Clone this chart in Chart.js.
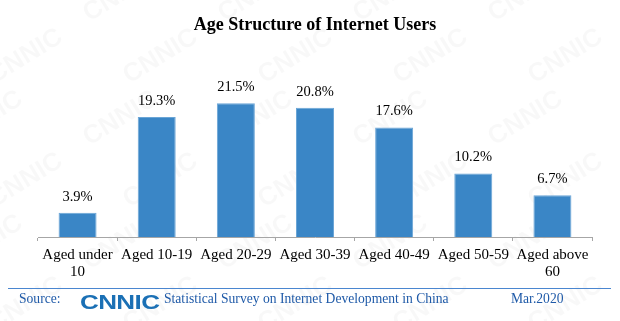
<!DOCTYPE html>
<html><head><meta charset="utf-8">
<script src="https://cdn.jsdelivr.net/npm/chart.js@4"></script>
<style>
html,body{margin:0;padding:0;background:#fff;}
#wrap{position:relative;width:620px;height:321px;overflow:hidden;font-family:"Liberation Serif","Times New Roman",serif;}
#c{position:absolute;left:0;top:0;}
.ft{position:absolute;color:#1f5aa8;font-size:13.6px;white-space:nowrap;line-height:16px;}
#line{position:absolute;left:8px;top:288px;width:603px;height:1px;background:#4a86d0;}
#logo{position:absolute;left:80px;top:291px;font-family:"Liberation Sans",Arial,sans-serif;font-weight:bold;font-size:21px;color:#1b70b5;transform:scaleX(1.24);transform-origin:left top;line-height:22px;letter-spacing:-0.5px;}
</style></head>
<body><div id="wrap">
<canvas id="c" width="620" height="321"></canvas>
<div id="line"></div>
<div class="ft" style="left:19px;top:291px;">Source:</div>
<div id="logo">CNNIC</div>
<div class="ft" style="left:164px;top:291px;">Statistical Survey on Internet Development in China</div>
<div class="ft" style="left:511px;top:291px;">Mar.2020</div>
</div>
<script>
const titleText = "Age Structure of Internet Users";
const categories = [["Aged under","10"],"Aged 10-19","Aged 20-29","Aged 30-39","Aged 40-49","Aged 50-59",["Aged above","60"]];
const shares = [3.9, 19.3, 21.5, 20.8, 17.6, 10.2, 6.7];
const valueLabels = ["3.9%","19.3%","21.5%","20.8%","17.6%","10.2%","6.7%"];

const watermark = {
  id:'watermark',
  beforeDraw(chart){
    const ctx = chart.ctx;
    ctx.save();
    ctx.fillStyle = 'rgba(0,0,0,0.028)';
    ctx.font = 'bold 26px "Liberation Sans", Arial, sans-serif';
    for(let y=-40;y<380;y+=62){
      for(let x=-60;x<700;x+=135){
        ctx.save();
        ctx.translate(x + ((y/62)%2)*40, y);
        ctx.rotate(-0.55);
        ctx.fillText('CNNIC',0,0);
        ctx.restore();
      }
    }
    ctx.restore();
  }
};
const barLabels = {
  id:'barLabels',
  afterDatasetsDraw(chart){
    const ctx = chart.ctx;
    const meta = chart.getDatasetMeta(0);
    ctx.save();
    ctx.fillStyle = '#000';
    ctx.font = '14.5px "Liberation Serif", "Times New Roman", serif';
    ctx.textAlign = 'center';
    ctx.textBaseline = 'middle';
    meta.data.forEach((bar,i)=>{
      ctx.fillText(valueLabels[i], bar.x, bar.y - 16);
    });
    ctx.restore();
  }
};

new Chart(document.getElementById('c'), {
  type:'bar',
  data:{
    labels:categories,
    datasets:[{
      data:shares,
      backgroundColor:'#3a86c6',
      borderColor:'#6aa5d6',
      borderWidth:1,
      categoryPercentage:1,
      barPercentage:0.48
    }]
  },
  options:{
    responsive:false,
    animation:false,
    events:[],
    layout:{padding:{left:38,right:28,top:0,bottom:0}},
    plugins:{
      legend:{display:false},
      tooltip:{enabled:false},
      title:{
        display:true,
        text:titleText,
        color:'#000',
        font:{family:'"Liberation Serif", "Times New Roman", serif',size:18,weight:'bold',lineHeight:1.2},
        padding:{top:15,bottom:45}
      }
    },
    scales:{
      y:{display:false,min:0,max:25},
      x:{
        offset:true,
        grid:{display:true,drawOnChartArea:false,drawTicks:true,tickLength:4,color:'#a6a6a6',offset:true},
        border:{display:true,color:'#a6a6a6',width:1},
        ticks:{color:'#000',padding:5,maxRotation:0,autoSkip:false,
          font:{family:'"Liberation Serif", "Times New Roman", serif',size:15,lineHeight:1.15}},
        afterFit(scale){ scale.height = 84; }
      }
    }
  },
  plugins:[watermark,barLabels]
});
</script>
</body></html>
